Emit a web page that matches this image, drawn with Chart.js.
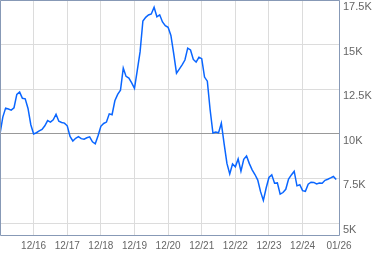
<!DOCTYPE html>
<html>
<head>
<meta charset="utf-8">
<script src="https://cdn.jsdelivr.net/npm/chart.js@4.4.1/dist/chart.umd.min.js"></script>
<style>
  body { margin: 0; background: #fff; }
  #wrap { width: 379px; height: 255px; position: relative; }
</style>
</head>
<body>
<div id="wrap"><canvas id="volChart"></canvas></div>
<script>
// monthly values, Dec 2015 .. Dec 2025
const values = [
  10000, 10940, 11440, 11390, 11330, 11460, 12210, 12340, 11990, 11960, 11420, 10510,
  9990, 10060, 10160, 10250, 10450, 10740, 10660, 10790, 11100, 10710, 10635, 10600,
  10450, 9850, 9600, 9750, 9840, 9730, 9700, 9780, 9830, 9550, 9440, 9890,
  10420, 10580, 10660, 11120, 11070, 11850, 12210, 12440, 13680, 13220, 13120, 12860,
  12545, 13560, 14590, 16320, 16530, 16660, 16720, 17090, 16560, 16670, 16270, 16060,
  15970, 15510, 14490, 13400, 13630, 13865, 14135, 14800, 14700, 14170, 14020, 14290,
  14210, 13180, 12950, 11350, 10045, 10095, 10055, 10595, 9440, 8340, 7750, 8310,
  8150, 8595, 7910, 8570, 8760, 8330, 7980, 7720, 7410, 6760, 6265, 6965,
  7555, 7700, 7230, 7250, 6620, 6710, 6890, 7460, 7695, 7905, 7085, 7145,
  6815, 6780, 7180, 7290, 7275, 7190, 7240, 7235, 7395, 7455, 7530, 7610,
  7440
];

// categories: one per month, Dec 2015 .. Jan 2026
const months = [];
for (let y = 2015, m = 12; months.length < 122; m++) {
  if (m > 12) { m = 1; y++; }
  months.push(String(m).padStart(2, '0') + '/' + String(y).slice(2));
}

const xTickLabels = ['12/16', '12/17', '12/18', '12/19', '12/20', '12/21', '12/22', '12/23', '12/24', '01/26'];
const yTicks = [5000, 7500, 10000, 12500, 15000, 17500];

// no extra room for labels that hang over the plot ends
function noPad(s) {
  s.paddingLeft = 0;
  s.paddingRight = 0;
  s.paddingTop = 0;
  s.paddingBottom = 0;
}

const frame = {
  id: 'frame',
  afterDatasetsDraw(chart) {
    const a = chart.chartArea;
    const c = chart.ctx;
    c.save();
    c.strokeStyle = '#8799b6';
    c.lineWidth = 1;
    c.beginPath();
    c.rect(Math.round(a.left) + 0.5, Math.round(a.top) + 0.5,
           Math.round(a.right - a.left), Math.round(a.bottom - a.top));
    c.stroke();
    c.restore();
  }
};

const ctx = document.getElementById('volChart').getContext('2d');
const volChart = new Chart(ctx, {
  type: 'line',
  data: {
    labels: months,
    datasets: [{
      data: values,
      borderColor: '#0a66ff',
      borderWidth: 1.5,
      pointRadius: 0,
      tension: 0,
      fill: false
    }]
  },
  options: {
    responsive: true,
    maintainAspectRatio: false,
    animation: false,
    layout: { padding: 0 },
    plugins: {
      legend: { display: false },
      tooltip: { enabled: false }
    },
    scales: {
      x: {
        type: 'category',
        offset: false,
        border: { display: false },
        grid: {
          drawTicks: false,
          color: c => xTickLabels.includes(months[c.index]) ? '#dcdcdc' : 'rgba(0,0,0,0)'
        },
        ticks: {
          autoSkip: false,
          maxRotation: 0,
          padding: 5,
          color: '#666',
          font: { family: 'Liberation Sans, Arial', size: 10 },
          callback: (v, i) => xTickLabels.includes(months[i]) ? months[i] : ''
        },
        afterFit: s => { s.height = 20; noPad(s); }
      },
      y: {
        position: 'right',
        min: 4330,
        max: 17500,
        border: { display: false },
        grid: {
          drawTicks: false,
          color: c => c.tick && c.tick.value === 10000 ? '#999' : '#dcdcdc'
        },
        afterBuildTicks: s => { s.ticks = yTicks.map(v => ({ value: v })); },
        ticks: {
          padding: 4,
          labelOffset: 7,
          color: '#666',
          font: { family: 'Liberation Sans, Arial', size: 11 },
          callback: v => (v / 1000) + 'K'
        },
        afterFit: s => { s.width = 40; noPad(s); }
      }
    }
  },
  plugins: [frame]
});
</script>
</body>
</html>
